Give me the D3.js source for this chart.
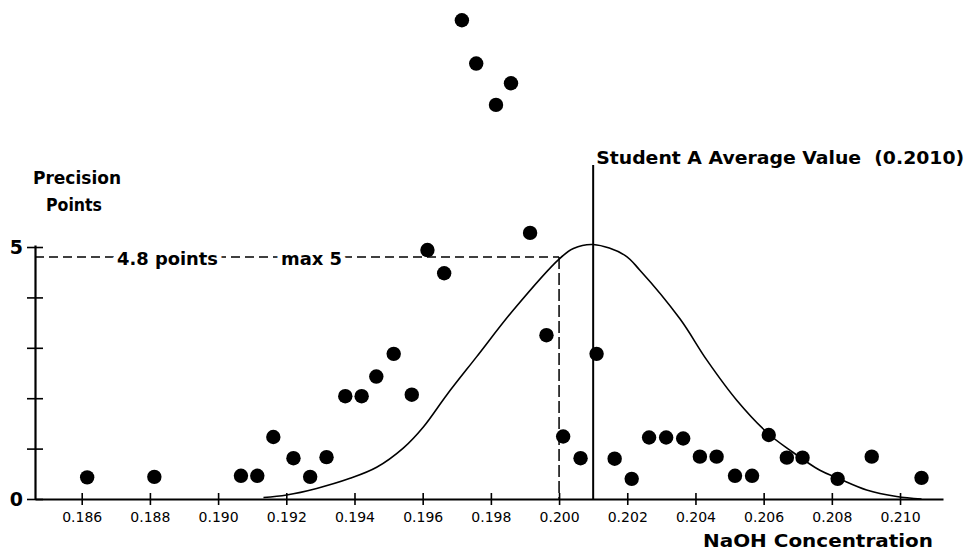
<!DOCTYPE html>
<html lang="en">
<head>
<meta charset="utf-8">
<title>Precision Points vs NaOH Concentration</title>
<script src="https://cdn.jsdelivr.net/npm/d3@7"></script>
<style>
body { margin: 0; background: #fff; }
text { font-family: "DejaVu Sans", sans-serif; fill: #000; }
.lbl { font-weight: bold; font-size: 18px; }
.xax .tick text { font-size: 14px; }
.yax .tick text { font-size: 19px; font-weight: bold; }
</style>
</head>
<body>
<script>
// student results: NaOH concentration and precision points
var conc = [0.18616, 0.18813, 0.19067, 0.19115, 0.19162, 0.19221, 0.19270, 0.19318,
            0.19373, 0.19421, 0.19464, 0.19515, 0.19568, 0.19614, 0.19663, 0.19715,
            0.19757, 0.19815, 0.19859, 0.19915, 0.19963, 0.20012, 0.20063, 0.20110,
            0.20163, 0.20213, 0.20264, 0.20314, 0.20364, 0.20413, 0.20462, 0.20516,
            0.20566, 0.20615, 0.20668, 0.20714, 0.20817, 0.20917, 0.21063];
var points = [0.43, 0.44, 0.46, 0.46, 1.23, 0.81, 0.44, 0.83,
              2.04, 2.04, 2.43, 2.88, 2.07, 4.94, 4.48, 9.50,
              8.64, 7.82, 8.25, 5.28, 3.25, 1.24, 0.81, 2.88,
              0.80, 0.40, 1.22, 1.22, 1.20, 0.84, 0.84, 0.46,
              0.46, 1.27, 0.82, 0.82, 0.40, 0.84, 0.42];

// scoring curve
var curveX = [0.19133, 0.19201, 0.19289, 0.19387, 0.19465, 0.19543, 0.19602, 0.19670,
              0.19758, 0.19866, 0.20000, 0.20042, 0.20100, 0.20192, 0.20237, 0.20355,
              0.20433, 0.20521, 0.20613, 0.20677, 0.20765, 0.20819, 0.20902, 0.20990, 0.21063];
var curveY = [0.03, 0.08, 0.21, 0.41, 0.63, 1.01, 1.43, 2.06,
              2.82, 3.75, 4.76, 4.97, 5.05, 4.84, 4.54, 3.57,
              2.76, 1.96, 1.30, 0.97, 0.57, 0.41, 0.18, 0.05, 0.0];

var xTicks = [0.186, 0.188, 0.190, 0.192, 0.194, 0.196, 0.198, 0.200, 0.202, 0.204, 0.206, 0.208, 0.210];
var yTicks = [0, 1, 2, 3, 4, 5];
var yTickLabels = ["0", "", "", "", "", "5"];

var studentAvg = 0.2010;
var studentPts = 4.8;

var w = 969, h = 550;

var svg = d3.select("body").append("svg")
    .attr("width", w)
    .attr("height", h);

var x = d3.scaleLinear().domain([0.18463, 0.21126]).range([35, 943]);
var y = d3.scaleLinear().domain([0, 5.04]).range([499, 245]);

// x axis
var xAxis = svg.append("g")
    .attr("class", "xax")
    .attr("transform", "translate(0," + y(0) + ")")
    .call(d3.axisBottom(x).tickValues(xTicks).tickFormat(d3.format(".3f")).tickSizeOuter(0));
xAxis.select(".domain").attr("stroke-width", 2.2);
xAxis.selectAll(".tick line").attr("y1", -6).attr("y2", 6).attr("stroke-width", 1.6);
xAxis.selectAll(".tick text").attr("y", 13).attr("dy", "0.71em");

// y axis
var yAxis = svg.append("g")
    .attr("class", "yax")
    .attr("transform", "translate(" + x.range()[0] + ",0)")
    .call(d3.axisLeft(y).tickValues(yTicks).tickFormat(function(d, i) { return yTickLabels[i]; }).tickSizeOuter(0));
yAxis.select(".domain").attr("stroke-width", 2.2);
yAxis.selectAll(".tick line").attr("x1", -8).attr("x2", 8).attr("stroke-width", 1.6);
yAxis.selectAll(".tick text").attr("x", -12);

// curve
var line = d3.line()
    .x(function(d) { return x(d[0]); })
    .y(function(d) { return y(d[1]); })
    .curve(d3.curveCatmullRom);

svg.append("path")
    .datum(d3.zip(curveX, curveY))
    .attr("d", line)
    .attr("fill", "none")
    .attr("stroke", "#000")
    .attr("stroke-width", 1.6);

// student A average
svg.append("line")
    .attr("x1", x(studentAvg)).attr("x2", x(studentAvg))
    .attr("y1", 165).attr("y2", y(0))
    .attr("stroke", "#000").attr("stroke-width", 2);

svg.append("text")
    .attr("class", "lbl")
    .attr("x", x(studentAvg) + 3).attr("y", 164)
    .attr("textLength", 368).attr("lengthAdjust", "spacingAndGlyphs")
    .style("white-space", "pre")
    .text("Student A Average Value  (0.2010)");

// dashed guides
svg.append("line")
    .attr("x1", x(0.2000)).attr("x2", x(0.2000))
    .attr("y1", y(studentPts)).attr("y2", y(0))
    .attr("stroke", "#000").attr("stroke-width", 1.5)
    .attr("stroke-dasharray", "12,4");

svg.append("line")
    .attr("x1", x.range()[0]).attr("x2", x(0.2000))
    .attr("y1", y(studentPts)).attr("y2", y(studentPts))
    .attr("stroke", "#000").attr("stroke-width", 1.5)
    .attr("stroke-dasharray", "9,5");

svg.append("text")
    .attr("class", "lbl")
    .attr("x", 117).attr("y", 265)
    .attr("textLength", 101).attr("lengthAdjust", "spacingAndGlyphs")
    .attr("stroke", "#fff").attr("stroke-width", 10).attr("paint-order", "stroke")
    .text("4.8 points");

svg.append("text")
    .attr("class", "lbl")
    .attr("x", 281).attr("y", 265)
    .attr("textLength", 61).attr("lengthAdjust", "spacingAndGlyphs")
    .attr("stroke", "#fff").attr("stroke-width", 10).attr("paint-order", "stroke")
    .text("max 5");

// dots
svg.append("g").selectAll("circle")
    .data(d3.zip(conc, points))
    .enter().append("circle")
    .attr("cx", function(d) { return x(d[0]); })
    .attr("cy", function(d) { return y(d[1]); })
    .attr("r", 7.2)
    .attr("fill", "#000");

// axis titles
svg.append("text")
    .attr("class", "lbl")
    .attr("x", 33).attr("y", 184)
    .attr("textLength", 88).attr("lengthAdjust", "spacingAndGlyphs")
    .text("Precision");
svg.append("text")
    .attr("class", "lbl")
    .attr("x", 46).attr("y", 211)
    .attr("textLength", 56).attr("lengthAdjust", "spacingAndGlyphs")
    .text("Points");

svg.append("text")
    .attr("class", "lbl")
    .attr("x", 703).attr("y", 547)
    .attr("textLength", 230).attr("lengthAdjust", "spacingAndGlyphs")
    .text("NaOH Concentration");
</script>
</body>
</html>
